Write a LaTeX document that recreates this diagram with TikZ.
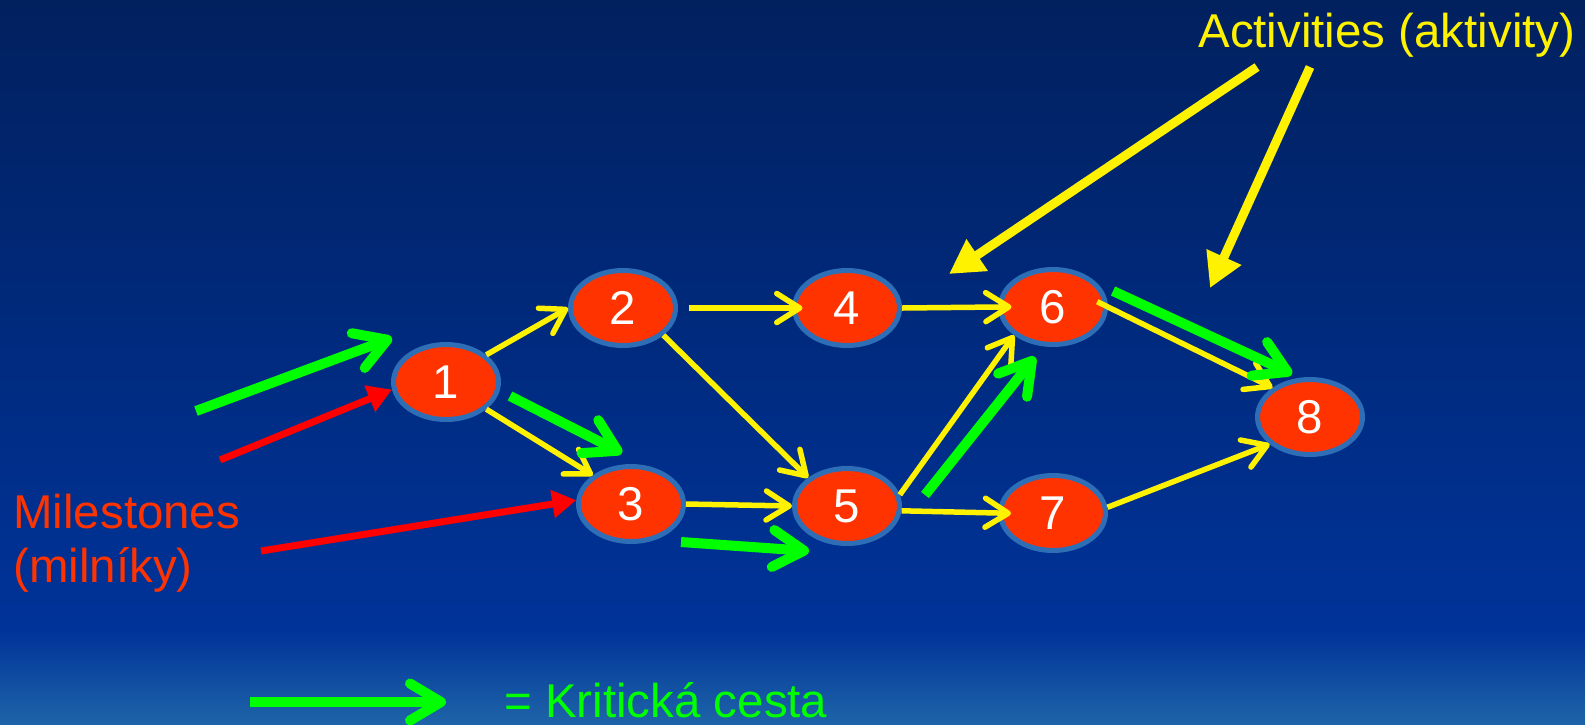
\documentclass[tikz,border=0pt]{standalone}
\usepackage{fontspec}
\setmainfont{Liberation Sans}
\usetikzlibrary{positioning,shapes.geometric,arrows.meta}
\definecolor{nodered}{RGB}{255,51,0}
\definecolor{nodeblue}{RGB}{46,110,183}
\definecolor{bgtop}{RGB}{1,32,94}
\definecolor{bgmid}{RGB}{0,47,140}
\definecolor{bgbottom}{RGB}{0,51,153}
\definecolor{bandbottom}{RGB}{30,100,168}

\begin{document}
\begin{tikzpicture}[
    node distance=4.2cm,
    bigfont/.style={font=\fontsize{27}{30.7}\selectfont},
    milestone/.style={ellipse, draw=nodeblue, line width=0.1cm, fill=nodered, minimum width=2.1cm, minimum height=1.5cm, inner sep=0pt, text=white, bigfont},
    activity/.style={-{Straight Barb[round, length=0.46cm, width=0.58cm]}, line width=0.11cm, yellow},
    critical/.style={-{Straight Barb[round, length=0.62cm, width=0.74cm]}, line width=0.2cm, green},
    marker/.style={-{Triangle[length=0.48cm, width=0.54cm]}, line width=0.14cm, red},
    pointer/.style={-{Triangle[length=0.68cm, width=0.72cm]}, line width=0.18cm, yellow}
]
% Background
\useasboundingbox (0,0) rectangle (31.7,-14.48);
\shade[top color=bgtop, middle color=bgmid, bottom color=bgbottom] (0,0) rectangle (31.7,-12.6);
\shade[top color=bgbottom, bottom color=bandbottom] (0,-12.6) rectangle (31.7,-14.48);

% Milestones
\node[milestone] (n1) at (8.92,-7.64) {1};
\node[milestone, right of=n1, xshift=-0.66cm, yshift=1.48cm] (n2) {2};
\node[milestone, right of=n1, xshift=-0.5cm, yshift=-2.44cm] (n3) {3};
\node[milestone, right of=n2, xshift=0.28cm] (n4) {4};
\node[milestone, right of=n3, xshift=0.12cm, yshift=-0.04cm] (n5) {5};
\node[milestone, right of=n4, xshift=-0.08cm, yshift=0.02cm] (n6) {6};
\node[milestone, right of=n5, xshift=-0.08cm, yshift=-0.14cm] (n7) {7};
\node[milestone, right of=n6, xshift=0.94cm, yshift=-2.2cm] (n8) {8};

% Activities
\draw[activity] (n1.34) -- (n2.180);
\draw[activity] (n1.-34) -- (n3.143);
\draw[activity, shorten <=0.21cm, shorten >=-0.21cm] (n2.east) -- (n4.west);
\draw[activity] (n2.-34) -- (n5.144);
\draw[activity, shorten >=-0.27cm] (n4.east) -- (n6.west);
\draw[activity] (n3.east) -- (n5.west);
\draw[activity] (n5.12) -- (n6.216);
\draw[activity, shorten >=-0.26cm] (n5.-5) -- (n7.west);
\draw[activity, shorten <=-0.24cm] (n6.east) -- (n8.142);
\draw[activity] (n7.6) -- (n8.214);

% Critical path
\coordinate (c1-start) at (3.92,-8.22);
\coordinate (c1-end) at (7.84,-6.76);
\coordinate (c13-start) at (10.2,-7.92);
\coordinate (c13-end) at (12.44,-9.06);
\coordinate (c35-start) at (13.62,-10.84);
\coordinate (c35-end) at (16.18,-11.02);
\coordinate (c56-start) at (18.5,-9.9);
\coordinate (c56-end) at (20.7,-7.14);
\coordinate (c68-start) at (22.26,-5.82);
\coordinate (c68-end) at (25.84,-7.48);
\draw[critical] (c1-start) -- (c1-end);
\draw[critical] (c13-start) -- (c13-end);
\draw[critical] (c35-start) -- (c35-end);
\draw[critical] (c56-start) -- (c56-end);
\draw[critical] (c68-start) -- (c68-end);

% Labels
\node[bigfont, text=yellow, anchor=base west, inner sep=0pt] (acts) at (23.96,-0.94) {Activities (aktivity)};
\node[bigfont, text=nodered, anchor=north west, inner sep=0pt, align=left] (miles) at (0.26,-9.88) {Milestones\\(milníky)};
\node[bigfont, text=green, anchor=base west, inner sep=0pt] (legend) at (10.08,-14.34) {= Kritická cesta};

% Pointers from labels
\coordinate (act-a) at (25.14,-1.34);
\coordinate (act-a-end) at (18.98,-5.48);
\coordinate (act-b) at (26.2,-1.34);
\coordinate (act-b-end) at (24.2,-5.76);
\draw[pointer] (act-a) -- (act-a-end);
\draw[pointer] (act-b) -- (act-b-end);
\coordinate (mile-a) at (4.4,-9.2);
\coordinate (mile-b) at (5.22,-11.02);
\draw[marker] (mile-a) -- (n1.188);
\draw[marker] (mile-b) -- (n3.176);

% Legend arrow
\coordinate (legend-start) at (5.0,-14.04);
\draw[critical] (legend-start) -- ++(3.92,0);

\end{tikzpicture}
\end{document}
